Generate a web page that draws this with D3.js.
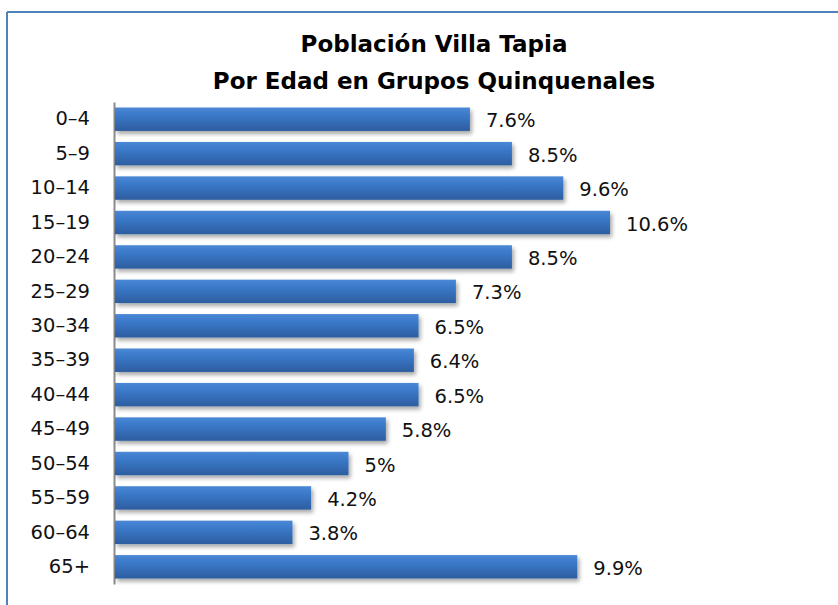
<!DOCTYPE html>
<html>
<head>
<meta charset="utf-8">
<script src="https://cdn.jsdelivr.net/npm/d3@7"></script>
<style>
  html, body { margin: 0; padding: 0; background: #fff; }
  #chart { width: 838px; height: 605px; }
  text { font-family: "DejaVu Sans", "Open Sans", sans-serif; }
</style>
</head>
<body>
<div id="chart"></div>
<script>
// Data
const ageGroups = ['0-4', '5-9', '10-14', '15-19', '20-24', '25-29', '30-34',
    '35-39', '40-44', '45-49', '50-54', '55-59', '60-64', '65+'];
const tickLabels = ['0–4', '5–9', '10–14', '15–19', '20–24', '25–29', '30–34',
    '35–39', '40–44', '45–49', '50–54', '55–59', '60–64', '65+'];
const percentages = [7.6, 8.5, 9.6, 10.6, 8.5, 7.3, 6.5, 6.4, 6.5, 5.8, 5.0, 4.2, 3.8, 9.9];
const titleLines = ['Población Villa Tapia', 'Por Edad en Grupos Quinquenales'];

const data = ageGroups.map((g, i) => ({ group: g, label: tickLabels[i], value: percentages[i] }));

const W = 838, H = 605;
const svg = d3.select('#chart')
    .append('svg')
    .attr('width', W)
    .attr('height', H);

const defs = svg.append('defs');

// Bar gradient (light top, darker bottom)
const grad = defs.append('linearGradient')
    .attr('id', 'barGrad')
    .attr('x1', 0).attr('y1', 0).attr('x2', 0).attr('y2', 1);
grad.append('stop').attr('offset', '0%').attr('stop-color', '#4a88d6');
grad.append('stop').attr('offset', '35%').attr('stop-color', '#3a78c8');
grad.append('stop').attr('offset', '100%').attr('stop-color', '#2d5d9f');

// Soft shadow under bars
const shadow = defs.append('filter')
    .attr('id', 'barShadow')
    .attr('x', '-5%').attr('y', '-20%')
    .attr('width', '115%').attr('height', '170%');
shadow.append('feGaussianBlur').attr('in', 'SourceAlpha').attr('stdDeviation', 2);
shadow.append('feOffset').attr('dx', 2).attr('dy', 3).attr('result', 'off');
shadow.append('feComponentTransfer')
    .append('feFuncA').attr('type', 'linear').attr('slope', 0.35);
const merge = shadow.append('feMerge');
merge.append('feMergeNode');
merge.append('feMergeNode').attr('in', 'SourceGraphic');

// Frame (top and left edges visible)
svg.append('line')
    .attr('x1', 7).attr('y1', 12).attr('x2', W).attr('y2', 12)
    .attr('stroke', '#4f81bd').attr('stroke-width', 2);
svg.append('line')
    .attr('x1', 7).attr('y1', 12).attr('x2', 7).attr('y2', H)
    .attr('stroke', '#4f81bd').attr('stroke-width', 2);

// Title
svg.append('g')
    .selectAll('text')
    .data(titleLines)
    .enter()
    .append('text')
    .attr('x', 434)
    .attr('y', (d, i) => 52 + i * 37)
    .attr('text-anchor', 'middle')
    .style('font-size', '23px')
    .style('font-weight', 'bold')
    .attr('fill', '#000')
    .text(d => d);

// Scales
const left = 115;
const xScale = d3.scaleLinear()
    .domain([0, 10.6])
    .range([left, 610]);

const yScale = d3.scaleBand()
    .domain(ageGroups)
    .range([102, 584])
    .paddingInner(0.32)
    .paddingOuter(0.16);

// Y axis
const yAxis = svg.append('g')
    .attr('class', 'y-axis')
    .attr('transform', `translate(${left - 1},0)`)
    .call(d3.axisLeft(yScale).tickSize(0).tickPadding(24)
        .tickFormat((d, i) => tickLabels[i]));
yAxis.select('.domain').attr('stroke', '#8c8c8c').attr('stroke-width', 2);
yAxis.selectAll('text')
    .style('font-size', '19.5px')
    .attr('fill', '#111');

// Bars
svg.selectAll('.bar')
    .data(data)
    .enter()
    .append('rect')
    .attr('class', 'bar')
    .attr('x', left)
    .attr('y', d => yScale(d.group))
    .attr('width', d => xScale(d.value) - left)
    .attr('height', yScale.bandwidth())
    .attr('fill', 'url(#barGrad)')
    .attr('filter', 'url(#barShadow)');

// Value labels
svg.selectAll('.label')
    .data(data)
    .enter()
    .append('text')
    .attr('class', 'label')
    .attr('x', d => xScale(d.value) + 16)
    .attr('y', d => yScale(d.group) + yScale.bandwidth() / 2 + 8)
    .style('font-size', '19.5px')
    .attr('fill', '#111')
    .text(d => d3.format('~')(d.value) + '%');
</script>
</body>
</html>
